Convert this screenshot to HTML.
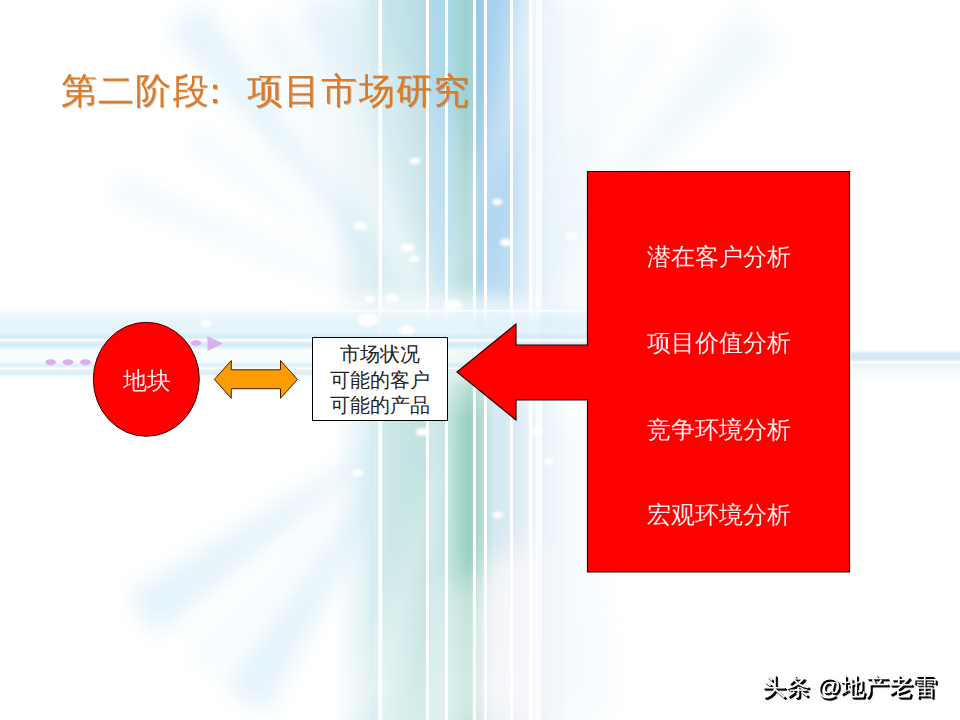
<!DOCTYPE html>
<html><head><meta charset="utf-8">
<style>
html,body{margin:0;padding:0;}
body{width:960px;height:720px;overflow:hidden;position:relative;background:#fff;font-family:"Liberation Serif",serif;}
#bg{position:absolute;left:0;top:0;}
.t{position:absolute;white-space:nowrap;line-height:1;}
#title{left:61px;top:73px;font-size:36px;color:#DE7A24;letter-spacing:1.2px;text-shadow:0.7px 0.7px 0.3px rgba(110,60,20,0.35);}
#box{position:absolute;left:312px;top:337px;width:134px;height:82px;border:1px solid #000;background:#fff;}
.bl{position:absolute;left:0;width:134px;text-align:center;font-size:20px;color:#222;line-height:1;}
.rt{position:absolute;left:587px;width:263px;text-align:center;font-size:24px;color:#FFECEC;line-height:1;}
#circtext{left:122.5px;top:369px;font-size:24px;color:#FFE8E8;}
#wm{left:762px;top:675px;font-size:24px;font-family:"Liberation Sans",sans-serif;color:#fff;
 text-shadow:1.5px 1.5px 0 #000,1px 1px 0 #000,2px 2px 1px #333;}
</style></head><body>
<svg id="bg" width="960" height="720" viewBox="0 0 960 720">
 <defs>
  <linearGradient id="vband" gradientUnits="userSpaceOnUse" x1="370" y1="0" x2="542" y2="0">
   <stop offset="0" stop-color="#d6ecf0"/>
   <stop offset="0.04" stop-color="#d2eaf0"/>
   <stop offset="0.08" stop-color="#c8e6ec"/>
   <stop offset="0.20" stop-color="#c0e2e8"/>
   <stop offset="0.32" stop-color="#b6dce4"/>
   <stop offset="0.36" stop-color="#b0d8ec"/>
   <stop offset="0.44" stop-color="#acd6ea"/>
   <stop offset="0.47" stop-color="#aad8e4"/>
   <stop offset="0.52" stop-color="#a2d4d8"/>
   <stop offset="0.56" stop-color="#9cd0cc"/>
   <stop offset="0.60" stop-color="#a4d2e0"/>
   <stop offset="0.64" stop-color="#98c8e6"/>
   <stop offset="0.68" stop-color="#a6d0ee"/>
   <stop offset="0.80" stop-color="#b0d6f0"/>
   <stop offset="0.84" stop-color="#c4e0f4"/>
   <stop offset="0.92" stop-color="#d6eaf6"/>
   <stop offset="1" stop-color="#ffffff"/>
  </linearGradient>
  <linearGradient id="vmask" x1="0" y1="0" x2="0" y2="1">
   <stop offset="0" stop-color="#fff" stop-opacity="0"/>
   <stop offset="0.25" stop-color="#fff" stop-opacity="0.1"/>
   <stop offset="0.40" stop-color="#fff" stop-opacity="0.35"/>
   <stop offset="0.46" stop-color="#fff" stop-opacity="0.55"/>
   <stop offset="0.56" stop-color="#fff" stop-opacity="0.2"/>
   <stop offset="0.70" stop-color="#fff" stop-opacity="0.05"/>
   <stop offset="0.85" stop-color="#fff" stop-opacity="0.2"/>
   <stop offset="1" stop-color="#fff" stop-opacity="0.4"/>
  </linearGradient>
  <radialGradient id="ray" cx="0" cy="0.5" r="1">
   <stop offset="0" stop-color="#bfe0f0" stop-opacity="0.9"/>
   <stop offset="1" stop-color="#d8ecf6" stop-opacity="0"/>
  </radialGradient>
  <filter id="b14" x="-50%" y="-50%" width="200%" height="200%"><feGaussianBlur stdDeviation="14"/></filter>
  <filter id="b12" x="-50%" y="-50%" width="200%" height="200%"><feGaussianBlur stdDeviation="12"/></filter>
  <filter id="b8" x="-50%" y="-50%" width="200%" height="200%"><feGaussianBlur stdDeviation="8"/></filter>
  <filter id="b11" x="-50%" y="-50%" width="200%" height="200%"><feGaussianBlur stdDeviation="11"/></filter>
  <filter id="b6" x="-50%" y="-50%" width="200%" height="200%"><feGaussianBlur stdDeviation="6"/></filter>
  <filter id="b3" x="-50%" y="-50%" width="200%" height="200%"><feGaussianBlur stdDeviation="2.5"/></filter>
  <filter id="b06" x="-50%" y="-50%" width="200%" height="200%"><feGaussianBlur stdDeviation="0.6"/></filter>
  <filter id="b1" x="-50%" y="-50%" width="200%" height="200%"><feGaussianBlur stdDeviation="0.8"/></filter>
  <filter id="b2" x="-50%" y="-50%" width="200%" height="200%"><feGaussianBlur stdDeviation="1.6"/></filter>
  <linearGradient id="vband2" gradientUnits="userSpaceOnUse" x1="370" y1="0" x2="542" y2="0">
   <stop offset="0" stop-color="#d6ecf0"/>
   <stop offset="0.05" stop-color="#d8eef0"/>
   <stop offset="0.10" stop-color="#cce8e8"/>
   <stop offset="0.32" stop-color="#c0e2e0"/>
   <stop offset="0.36" stop-color="#cfe8ea"/>
   <stop offset="0.45" stop-color="#c6e4e4"/>
   <stop offset="0.50" stop-color="#b2dcd2"/>
   <stop offset="0.58" stop-color="#98cfbe"/>
   <stop offset="0.62" stop-color="#aad6cc"/>
   <stop offset="0.66" stop-color="#b8dcd8"/>
   <stop offset="0.72" stop-color="#d4e8f0"/>
   <stop offset="0.85" stop-color="#dcecf4"/>
   <stop offset="0.95" stop-color="#eaf4f8"/>
   <stop offset="1" stop-color="#ffffff"/>
  </linearGradient>
  <linearGradient id="gTop" x1="0" y1="0" x2="0" y2="1">
   <stop offset="0" stop-color="#fff"/>
   <stop offset="0.30" stop-color="#eee"/>
   <stop offset="0.40" stop-color="#ccc"/>
   <stop offset="0.45" stop-color="#777"/>
   <stop offset="0.50" stop-color="#000"/>
  </linearGradient>
  <linearGradient id="gBot" x1="0" y1="0" x2="0" y2="1">
   <stop offset="0.47" stop-color="#000"/>
   <stop offset="0.52" stop-color="#999"/>
   <stop offset="0.58" stop-color="#fff"/>
   <stop offset="0.80" stop-color="#fff"/>
   <stop offset="1" stop-color="#aaa"/>
  </linearGradient>
  <mask id="mTop" maskUnits="userSpaceOnUse" x="0" y="0" width="960" height="720"><rect x="0" y="0" width="960" height="720" fill="url(#gTop)"/></mask>
  <mask id="mBot" maskUnits="userSpaceOnUse" x="0" y="0" width="960" height="720"><rect x="0" y="0" width="960" height="720" fill="url(#gBot)"/></mask>
  <linearGradient id="lhaze" x1="0" y1="0" x2="1" y2="0">
   <stop offset="0" stop-color="#d4ecf0" stop-opacity="0"/>
   <stop offset="1" stop-color="#cce8ec" stop-opacity="0.85"/>
  </linearGradient>
  <linearGradient id="rhaze" x1="0" y1="0" x2="1" y2="0">
   <stop offset="0" stop-color="#dcecf6" stop-opacity="0.7"/>
   <stop offset="1" stop-color="#e4f0f8" stop-opacity="0"/>
  </linearGradient>
 </defs>
 <rect x="0" y="0" width="960" height="720" fill="#fff"/>
 <!-- rays -->
 <g filter="url(#b11)" fill="#bee4f4" opacity="0.7">
  <polygon points="357.5,286.0 121.3,177.0 112.7,197.3 355.2,291.5" opacity="0.4"/>
  <polygon points="353.0,256.1 201.6,125.1 185.6,145.5 349.4,260.8" opacity="0.22"/>
  <polygon points="389.1,263.1 201.7,3.1 167.5,30.8 382.8,268.1" opacity="0.55"/>
  <polygon points="389.0,239.8 277.4,15.8 252.9,29.4 383.7,242.7" opacity="0.35"/>
  <polygon points="390.5,196.1 333.5,-6.4 305.1,3.4 384.8,198.1" opacity="0.3"/>
  <polygon points="376.7,445.4 127.1,594.5 155.8,635.5 381.3,452.0" opacity="0.6"/>
  <polygon points="364.2,477.4 188.0,655.2 210.3,675.3 368.7,481.5" opacity="0.2"/>
  <polygon points="390.1,460.3 223.9,686.6 266.3,713.1 396.9,464.5" opacity="0.6"/>
  <polygon points="533.8,278.8 784.7,47.9 740.9,7.0 528.0,273.4" opacity="0.3"/>
  <polygon points="532.6,252.2 668.0,41.7 642.0,26.7 527.4,249.2" opacity="0.18"/>

 </g>
 <g filter="url(#b14)" fill="#c8e4f4">
  <polygon points="300,0 378,0 378,310 350,290" opacity="0.3"/>
  <polygon points="538,0 600,0 590,330 540,330" opacity="0.2"/>
  <polygon points="538,400 600,420 610,720 538,720" opacity="0.15"/>
 </g>
 <!-- vertical band -->
 <rect x="335" y="0" width="43" height="720" fill="url(#lhaze)"/>
 <rect x="540" y="0" width="30" height="720" fill="url(#rhaze)"/>
 <rect x="370" y="0" width="172" height="720" fill="url(#vband)" mask="url(#mTop)"/>
 <rect x="370" y="0" width="172" height="720" fill="url(#vband2)" mask="url(#mBot)"/>
 <!-- white haze over band -->
 <g filter="url(#b14)">
  <polygon points="372,60 400,60 440,300 372,300" fill="#fff" opacity="0.3"/>
  <polygon points="486,560 545,540 545,720 486,720" fill="#fdf8fb" opacity="0.8"/>
  <polygon points="440,580 490,580 490,720 440,720" fill="#fff" opacity="0.35"/>
  <polygon points="420,80 470,160 470,300 430,300" fill="#fff" opacity="0.2"/>
 </g>
 <!-- white rays over band -->
 <g filter="url(#b11)" fill="#ffffff">

  <polygon points="428.3,291.4 353.0,73.2 307.3,93.5 419.2,295.5" opacity="0.45"/>
  <polygon points="422.2,294.0 298.0,65.0 264.1,86.2 415.4,298.2" opacity="0.35"/>
  <polygon points="461.4,273.8 558.5,10.7 520.3,-1.0 453.7,271.5" opacity="0.3"/>
  <polygon points="435.8,457.6 350.6,704.0 394.1,715.6 443.5,459.7" opacity="0.3"/>
 </g>
 <!-- white vertical lines -->
 <g fill="#fff" filter="url(#b06)">
  <rect x="378.5" y="0" width="3.5" height="720"/>
  <rect x="426" y="0" width="3" height="720"/>
  <rect x="445" y="0" width="3" height="720"/>
  <rect x="473" y="0" width="3" height="720"/>
  <rect x="484" y="0" width="3" height="720"/>
  <rect x="510" y="0" width="3" height="720"/>
  <rect x="529" y="0" width="3.5" height="720"/>
  <rect x="536" y="0" width="2" height="720" opacity="0.6"/>
 </g>
 <!-- center glow -->
 <ellipse cx="430" cy="325" rx="120" ry="30" fill="#fff" opacity="0.75" filter="url(#b12)"/>
 <ellipse cx="430" cy="330" rx="45" ry="14" fill="#fff" opacity="0.9" filter="url(#b6)"/>
 <!-- horizontal band -->
 <g filter="url(#b6)">
  <rect x="-20" y="314" width="620" height="26" fill="#d4ecf8" opacity="0.6"/>
  <rect x="-20" y="350" width="620" height="30" fill="#f2f9fc" opacity="0.5"/>
 </g>
 <g filter="url(#b2)">
  <rect x="-10" y="335" width="610" height="3" fill="#c4e4f6" opacity="0.8"/>
  <rect x="-10" y="342" width="610" height="6" fill="#cceaf8" opacity="0.85"/>
  <rect x="-10" y="364" width="610" height="3" fill="#c4e4f4" opacity="0.75"/>
  <rect x="-10" y="370" width="610" height="5" fill="#d0eaf6" opacity="0.75"/>
  <rect x="850" y="352" width="120" height="9" fill="#cfe6f6" opacity="0.9"/>
  <rect x="850" y="363.5" width="120" height="4" fill="#d8ecf6" opacity="0.7"/>
  <rect x="850" y="368" width="120" height="12" fill="#f0f8fc" opacity="0.6"/>
 </g>
 <rect x="0" y="310" width="600" height="1.5" fill="#fff" opacity="0.9"/>
 <rect x="0" y="339.5" width="600" height="1.5" fill="#fff" opacity="0.9"/>
 <rect x="0" y="367.5" width="600" height="1.5" fill="#fff" opacity="0.9"/>
 <rect x="850" y="361.5" width="110" height="1.5" fill="#fff" opacity="0.9"/>
 <!-- sparkles -->
 <g fill="#fff" filter="url(#b2)">
  <ellipse cx="415" cy="161" rx="5.4" ry="3.2"/>
  <ellipse cx="497.5" cy="202" rx="5.4" ry="3.2"/>
  <ellipse cx="360" cy="226" rx="6.8" ry="3.9"/>
  <ellipse cx="407.5" cy="248" rx="6.8" ry="3.9"/>
  <ellipse cx="414" cy="259" rx="5.4" ry="3.2"/>
  <ellipse cx="506" cy="242.5" rx="6.1" ry="3.9"/>
  <ellipse cx="571.5" cy="236" rx="6.1" ry="3.9"/>
  <ellipse cx="370" cy="299" rx="5.4" ry="3.2"/>
  <ellipse cx="392.5" cy="298" rx="6.8" ry="3.9"/>
  <ellipse cx="453" cy="305" rx="9.5" ry="5.2"/>
  <ellipse cx="368" cy="320" rx="10.8" ry="6.5"/>
  <ellipse cx="406.7" cy="330" rx="8.1" ry="4.5"/>
  <ellipse cx="206.7" cy="323.3" rx="5.4" ry="3.9"/>
  <ellipse cx="422.5" cy="432" rx="6.8" ry="3.9"/>
  <ellipse cx="357.5" cy="473" rx="6.1" ry="3.2"/>
  <ellipse cx="497.5" cy="515" rx="5.4" ry="3.2"/>
  <ellipse cx="537.5" cy="431" rx="5.4" ry="3.2"/>
  <ellipse cx="548.75" cy="461" rx="5.4" ry="3.2"/>
 </g>
 <!-- purple dots -->
 <g fill="#D8B0F0">
  <ellipse cx="50.7" cy="362.2" rx="5.3" ry="3"/>
  <ellipse cx="68" cy="362.2" rx="5.3" ry="3"/>
  <ellipse cx="85.4" cy="362.2" rx="5.3" ry="3"/>
  <ellipse cx="196" cy="343" rx="5.3" ry="3"/>
  <polygon points="207.5,336 223,343.5 207.5,351"/>
 </g>
 <!-- ellipse -->
 <ellipse cx="146.3" cy="379.3" rx="53" ry="57" fill="#FF0000" stroke="#3a0000" stroke-width="1"/>
 <!-- double arrow -->
 <polygon points="214.4,379.4 231.25,360.6 231.25,369.8 280.5,369.8 280.5,360.6 297.5,379.4 280.5,398.3 280.5,388.75 231.25,388.75 231.25,398.3" fill="#FF9C00" stroke="#3a2000" stroke-width="1"/>
 <!-- red callout -->
 <polygon points="587.5,171.5 849.5,171.5 849.5,572 587.5,572 587.5,400 516,400 516,420 457,372 516,324 516,345 587.5,345" fill="#FF0000" stroke="#2a0000" stroke-width="1.2"/>
</svg>
<div class="t" id="title">第二阶段<span style="position:relative;left:-13px">：</span>项目市场研究</div>
<div id="box">
 <div class="bl" style="top:6px">市场状况</div>
 <div class="bl" style="top:32px">可能的客户</div>
 <div class="bl" style="top:57px">可能的产品</div>
</div>
<div class="rt" style="top:244.5px">潜在客户分析</div>
<div class="rt" style="top:330.5px">项目价值分析</div>
<div class="rt" style="top:417.5px">竞争环境分析</div>
<div class="rt" style="top:503px">宏观环境分析</div>
<div class="t" id="circtext">地块</div>
<div class="t" id="wm">头条 @地产老雷</div>
</body></html>
